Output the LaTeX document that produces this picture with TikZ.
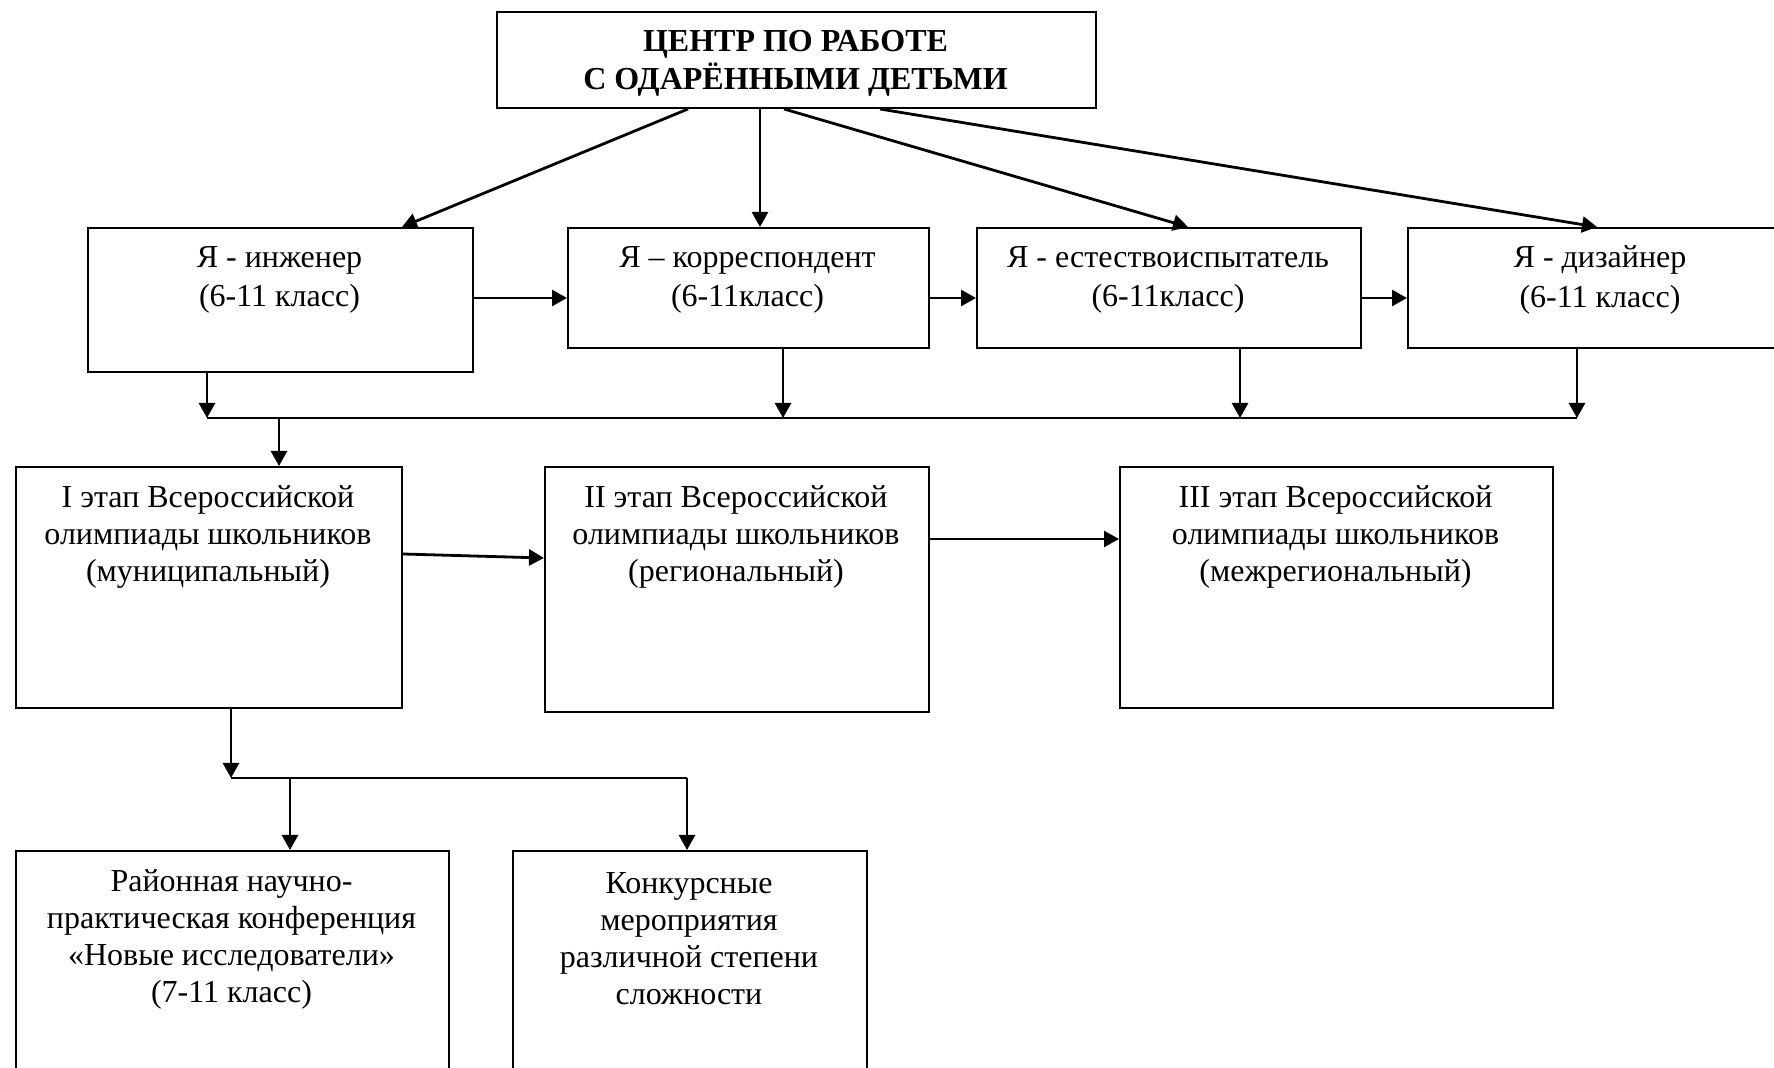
\documentclass[tikz,border=0pt]{standalone}
\usepackage{fontspec}
\setmainfont{Liberation Serif}
\usetikzlibrary{arrows.meta,calc}
\begin{document}
\begin{tikzpicture}[x=0.5pt,y=-0.5pt,
  box/.style={draw,line width=1pt,inner sep=0pt,anchor=north west},
  txt/.style={align=center,font=\fontsize{16}{18.5}\selectfont,inner sep=0pt},
  arr/.style={line width=1.4pt,-{Triangle[length=7.5pt,width=8pt]}},
  ln/.style={line width=1.1pt}]
\useasboundingbox (0,0) rectangle (1774,1068);
% top
\node[box,minimum width=299.5pt,minimum height=48pt] (T) at (496,11) {};
\node[txt,font=\bfseries\fontsize{16}{19}\selectfont] (Tt) at (795.5,63) {ЦЕНТР ПО РАБОТЕ\\С ОДАРЁННЫМИ ДЕТЬМИ};
% row 2
\node[box,minimum width=192.5pt,minimum height=72pt] (B1) at (87,227) {};
\node[box,minimum width=180.5pt,minimum height=60pt] (B2) at (567,227) {};
\node[box,minimum width=192pt,minimum height=60pt] (B3) at (976,227) {};
\node[box,minimum width=193pt,minimum height=60pt] (B4) at (1407,227) {};
\tikzset{txt2/.style={txt,font=\fontsize{16}{19.8}\selectfont}}
\node[txt2] (B1t) at (279.5,280) {Я - инженер\\(6-11 класс)};
\node[txt2] (B2t) at (747.5,280) {Я – корреспондент\\(6-11класс)};
\node[txt2] (B3t) at (1168,280) {Я - естествоиспытатель\\(6-11класс)};
\node[txt2] (B4t) at (1600,280) {Я - дизайнер\\(6-11 класс)};
% row 3
\node[box,minimum width=193pt,minimum height=120.5pt] (BI) at (15,466) {};
\node[box,minimum width=192pt,minimum height=122.5pt] (BII) at (544,466) {};
\node[box,minimum width=216.5pt,minimum height=120.5pt] (BIII) at (1119,466) {};
\node[txt] (BIt) at (208,537) {I этап Всероссийской\\олимпиады школьников\\(муниципальный)};
\node[txt] (BIIt) at (736,537) {II этап Всероссийской\\олимпиады школьников\\(региональный)};
\node[txt] (BIIIt) at (1335.5,537) {III этап Всероссийской\\олимпиады школьников\\(межрегиональный)};
% row 4
\node[box,minimum width=216.5pt,minimum height=120pt] (BR) at (15,850) {};
\node[box,minimum width=177pt,minimum height=120pt] (BK) at (512,850) {};
\node[txt] (BRt) at (231.5,939) {Районная научно-\\практическая конференция\\«Новые исследователи»\\(7-11 класс)};
\node[txt] (BKt) at (689,939) {Конкурсные\\мероприятия\\различной степени\\сложности};
% connectors from top
\draw[arr] ($(T.south west)+(192,0)$) -- ($(B1.north west)+(315,0)$);
\draw[arr] ($(T.south west)+(264,0)$) -- ($(B2.north west)+(193,0)$);
\draw[arr] ($(T.south west)+(288,0)$) -- ($(B3.north west)+(212,0)$);
\draw[arr] ($(T.south west)+(384,0)$) -- ($(B4.north west)+(190,0)$);
% row 2 horizontal
\draw[arr] ($(B1.north east)+(0,71)$) -- ($(B2.north west)+(0,71)$);
\draw[arr] ($(B2.north east)+(0,71)$) -- ($(B3.north west)+(0,71)$);
\draw[arr] ($(B3.north east)+(0,71)$) -- ($(B4.north west)+(0,71)$);
% bus
\coordinate (j1) at (207,418);
\coordinate (j2) at (783,418);
\coordinate (j3) at (1240,418);
\coordinate (j4) at (1577,418);
\coordinate (jI) at (279,418);
\draw[arr] (B1.south -| j1) -- (j1);
\draw[arr] (B2.south -| j2) -- (j2);
\draw[arr] (B3.south -| j3) -- (j3);
\draw[arr] (B4.south -| j4) -- (j4);
\draw[ln] (j1) -- (j4);
\draw[arr] (jI) -- (jI |- BI.north);
% row 3 horizontal
\draw[arr] ($(BI.north east)+(0,88)$) -- ($(BII.north west)+(0,92)$);
\draw[arr] ($(BII.north east)+(0,73)$) -- ($(BIII.north west)+(0,73)$);
% lower branch
\coordinate (k0) at (231,778);
\coordinate (k1) at (290,778);
\coordinate (k2) at (687,778);
\draw[arr] (BI.south -| k0) -- (k0);
\draw[ln] (k0) -- (k2);
\draw[arr] (k1) -- (k1 |- BR.north);
\draw[arr] (k2) -- (k2 |- BK.north);
\end{tikzpicture}
\end{document}
